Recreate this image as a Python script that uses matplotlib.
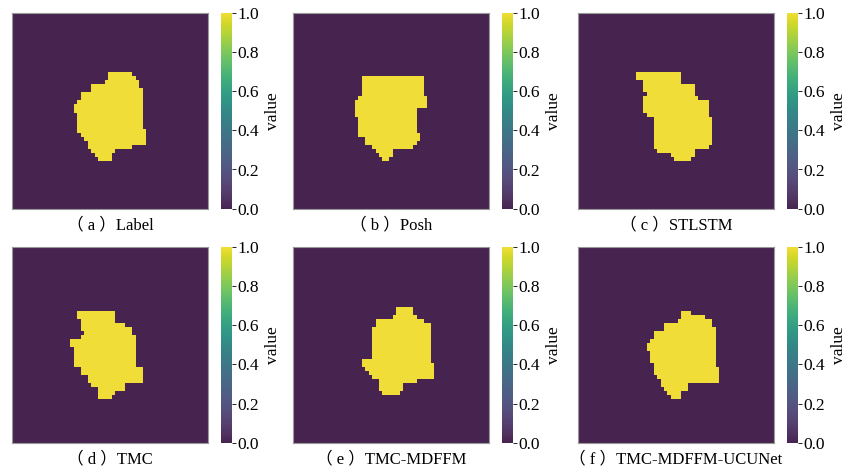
import numpy as np
import matplotlib.pyplot as plt
from matplotlib.colors import ListedColormap, rgb_to_hsv, hsv_to_rgb

plt.rcParams.update({
    "font.family": ["Liberation Serif", "Noto Sans CJK SC"],
    "font.size": 11.5,
})

NX, NY = 57, 49

captions = ["（ a ）Label", "（ b ）Posh", "（ c ）STLSTM",
            "（ d ）TMC", "（ e ）TMC-MDFFM", "（ f ）TMC-MDFFM-UCUNet"]

# yellow region of each mask, one row at a time: first row, start col, stop col
label_row0 = 15
label_start = [28, 28, 27, 23, 23, 20, 20, 19, 18, 18, 19, 19, 19, 19, 19, 20, 21, 22, 22, 23, 24, 25]
label_stop = [35, 36, 37, 37, 38, 38, 38, 38, 38, 38, 38, 38, 38, 38, 39, 39, 39, 39, 35, 30, 29, 29]

posh_row0 = 16
posh_start = [20, 20, 20, 20, 20, 19, 18, 18, 18, 18, 19, 19, 19, 19, 19, 21, 21, 23, 24, 25, 26]
posh_stop = [38, 38, 38, 38, 38, 39, 39, 39, 36, 36, 36, 36, 36, 36, 37, 37, 36, 35, 29, 29, 28]

stlstm_row0 = 15
stlstm_start = [17, 17, 19, 19, 19, 20, 19, 19, 19, 19, 20, 22, 22, 22, 22, 22, 22, 22, 22, 23, 27, 28]
stlstm_stop = [30, 30, 30, 34, 34, 34, 35, 38, 38, 38, 38, 39, 39, 39, 39, 39, 39, 39, 38, 34, 34, 33]

tmc_row0 = 16
tmc_start = [19, 19, 20, 20, 20, 21, 20, 17, 17, 18, 18, 18, 18, 18, 20, 20, 22, 22, 23, 25, 25, 25]
tmc_stop = [30, 30, 30, 33, 35, 35, 36, 36, 36, 36, 36, 36, 36, 36, 38, 38, 38, 38, 33, 33, 30, 29]

mdffm_row0 = 15
mdffm_start = [30, 30, 29, 24, 24, 23, 23, 23, 23, 23, 23, 23, 23, 20, 20, 21, 22, 23, 25, 25, 25, 26]
mdffm_stop = [35, 35, 36, 38, 40, 40, 40, 40, 40, 40, 40, 40, 40, 40, 41, 41, 41, 41, 36, 32, 32, 31]

ucunet_row0 = 16
ucunet_start = [30, 30, 29, 25, 25, 22, 22, 21, 20, 20, 21, 21, 21, 22, 22, 22, 23, 24, 24, 25, 26, 27]
ucunet_stop = [33, 37, 39, 39, 40, 40, 40, 40, 40, 40, 40, 40, 40, 40, 41, 41, 41, 41, 32, 32, 30, 30]


def make_mask(row0, starts, stops):
    m = np.zeros((NY, NX))
    for i, (a, b) in enumerate(zip(starts, stops)):
        m[row0 + i, a:b] = 1
    return m


masks = [
    make_mask(label_row0, label_start, label_stop),
    make_mask(posh_row0, posh_start, posh_stop),
    make_mask(stlstm_row0, stlstm_start, stlstm_stop),
    make_mask(tmc_row0, tmc_start, tmc_stop),
    make_mask(mdffm_row0, mdffm_start, mdffm_stop),
    make_mask(ucunet_row0, ucunet_start, ucunet_stop),
]

# viridis, washed out at the dark end like the reference
t = np.linspace(0, 1, 256)
hsv = rgb_to_hsv(plt.cm.viridis(t)[:, :3])
hsv[:, 1] *= 0.9 - 0.35 * (1 - t) ** 2
hsv[:, 2] *= 0.95
cmap = ListedColormap(hsv_to_rgb(hsv))

W, H = 848, 473
fig = plt.figure(figsize=(W / 100, H / 100), dpi=100)


def px(x, y, w, h):
    return [x / W, 1 - (y + h) / H, w / W, h / H]


lefts = [12, 293, 578]
tops = [12.7, 246.7]
size = 196

for k, mask in enumerate(masks):
    x0 = lefts[k % 3]
    y0 = tops[k // 3]
    ax = fig.add_axes(px(x0, y0, size, size))
    im = ax.imshow(mask, cmap=cmap, vmin=0, vmax=1,
                   interpolation="nearest", aspect="auto")
    ax.set_xticks([])
    ax.set_yticks([])
    for sp in ax.spines.values():
        sp.set_color("0.6")
        sp.set_linewidth(0.8)
    ax.text(0.5, -0.045, captions[k], transform=ax.transAxes,
            ha="center", va="top", fontsize=12)

    cax = fig.add_axes(px(x0 + 209, y0, 11, size))
    cb = fig.colorbar(im, cax=cax, ticks=[0, 0.2, 0.4, 0.6, 0.8, 1.0])
    cb.outline.set_visible(False)
    cb.ax.tick_params(labelsize=12.5, length=3, width=0.6, pad=1)
    cb.set_label("value", fontsize=12.5, labelpad=4)

fig.savefig("out.png", dpi=100)
